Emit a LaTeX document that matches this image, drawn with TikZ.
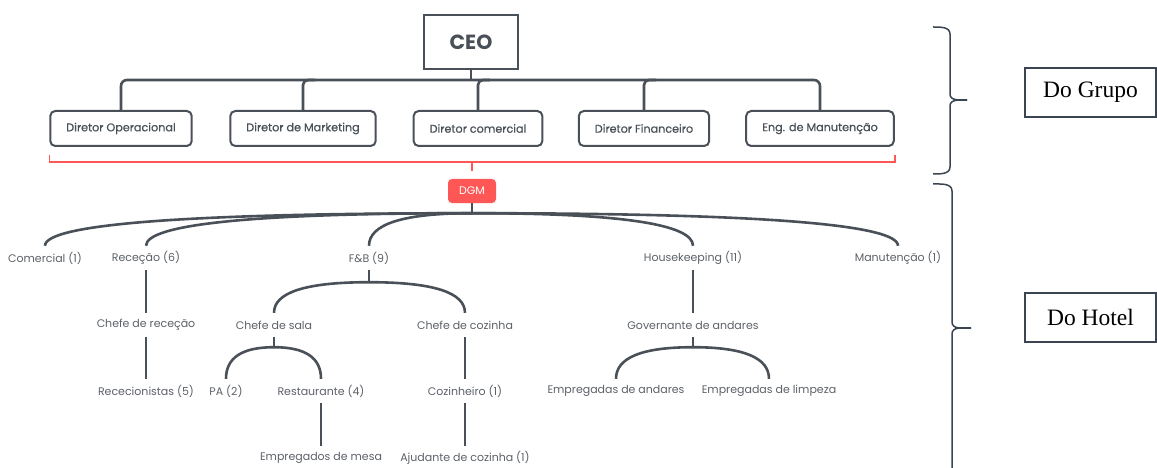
\documentclass[tikz,border=0pt]{standalone}
\usepackage{fontspec}
\setmainfont{Poppins}
\newfontfamily\medfont{Poppins}[FakeBold=0.6]
\newfontfamily\tagfont{Liberation Serif}
\usetikzlibrary{positioning,calc}

\definecolor{linegray}{HTML}{4A5058}
\definecolor{labelgray}{HTML}{5C6168}
\definecolor{dgmred}{HTML}{FF5656}
\definecolor{tagblue}{HTML}{3B4552}

\tikzset{
  orgline/.style={draw=linegray, line width=2.6pt},
  redline/.style={draw=dgmred, line width=1.4pt},
  ceobox/.style={draw=linegray, line width=2.2pt, minimum width=94pt, minimum height=54pt,
    text=linegray, font=\bfseries\fontsize{20.5}{24}\selectfont},
  dirbox/.style={draw=linegray, line width=2pt, rounded corners=5pt, minimum height=35pt,
    inner xsep=16pt, text=linegray, font=\medfont\fontsize{11.2}{13}\selectfont},
  unit/.style={inner sep=0pt, minimum height=24pt, text=labelgray,
    font=\fontsize{11}{13}\selectfont},
  tagbox/.style={draw=tagblue, line width=2pt, minimum width=131pt, minimum height=49pt,
    font=\tagfont\fontsize{23.5}{26}\selectfont},
  bracestyle/.style={draw=tagblue, line width=1.5pt}
}
% quadratic-looking branch from a hub to a child node
\newcommand{\orgbranch}[2]{%
  \draw[orgline] (#1) .. controls ($(#1)!2/3!(#1 -| #2.north)$)
    and ($(#2.north)!2/3!(#1 -| #2.north)$) .. (#2.north);}

\begin{document}
\begin{tikzpicture}[x=1pt, y=-1pt]
    \useasboundingbox (0,0) rectangle (1157,468);

    %% Do Grupo
    \node[ceobox] (ceo) at (471,42) {CEO};
    \node[dirbox] (dirop)  at (121,128.5) {Diretor Operacional};
    \node[dirbox] (dirmkt) at (303,128.5) {Diretor de Marketing};
    \node[dirbox] (dircom) at (478,128.5) {Diretor comercial};
    \node[dirbox] (dirfin) at (644,128.5) {Diretor Financeiro};
    \node[dirbox] (direng) at (820,128.5) {Eng. de Manutenção};

    \coordinate (bar) at (471,80);
    \draw[orgline] (ceo) -- (ceo.south |- bar);
    \draw[orgline, rounded corners=6pt] (dirop) |- (bar) -| (direng);
    \foreach \d in {dirmkt,dircom,dirfin}
        \draw[orgline, rounded corners=5pt] (\d) |- ($(\d.north |- bar)+(12,0)$);

    \coordinate (redmid) at (472,162);
    \draw[redline] ([yshift=-8pt]dirop.south west) |- (redmid) -| ([yshift=-8pt]direng.south east);
    \draw[redline] (redmid) -- ++(0,9);

    %% Do Hotel
    \node[fill=dgmred, text=white, rounded corners=4pt, minimum width=48pt, minimum height=24pt,
        font=\fontsize{11}{13}\selectfont] (dgm) at (472,191) {DGM};

    \node[unit] (comercial) at (45,258)  {Comercial (1)};
    \node[unit] (rececao)   at (146,258) {Receção (6)};
    \node[unit] (fb)        at (369,258) {F\&B (9)};
    \node[unit] (hk)        at (693,258) {Housekeeping (11)};
    \node[unit] (manut)     at (898,258) {Manutenção (1)};

    \node[unit] (chefrec) at (146,325) {Chefe de receção};
    \node[unit] (chefsala) at (274,325) {Chefe de sala};
    \node[unit] (chefcoz) at (465,325) {Chefe de cozinha};
    \node[unit] (govern)  at (693,325) {Governante de andares};

    \node[unit] (rececion) at (146,391) {Rececionistas (5)};
    \node[unit] (pa)       at (226,391) {PA (2)};
    \node[unit] (restaur)  at (321,391) {Restaurante (4)};
    \node[unit] (cozinh)   at (465,391) {Cozinheiro (1)};
    \node[unit] (empand)   at (616,391) {Empregadas de andares};
    \node[unit] (emplimp)  at (769,391) {Empregadas de limpeza};

    \node[unit] (empmesa) at (321,458) {Empregados de mesa};
    \node[unit] (ajud)    at (465,458) {Ajudante de cozinha (1)};

    % curved branches
    \draw[orgline] (dgm.south) -- ++(0,10) coordinate (hubdgm);
    \foreach \n in {comercial,rececao,fb,hk,manut}
        {\orgbranch{hubdgm}{\n}}
    \draw[orgline] (fb.south) -- ++(0,12) coordinate (hubfb);
    \foreach \n in {chefsala,chefcoz}
        {\orgbranch{hubfb}{\n}}
    \draw[orgline] (chefsala.south) -- ++(0,10) coordinate (hubsala);
    \foreach \n in {pa,restaur}
        {\orgbranch{hubsala}{\n}}
    \draw[orgline] (govern.south) -- ++(0,10) coordinate (hubgov);
    \foreach \n in {empand,emplimp}
        {\orgbranch{hubgov}{\n}}

    % straight branches
    \draw[orgline] (rececao) -- (chefrec);
    \draw[orgline] (chefrec) -- (rececion);
    \draw[orgline] (hk) -- (govern);
    \draw[orgline] (chefcoz) -- (cozinh);
    \draw[orgline] (cozinh) -- (ajud);
    \draw[orgline] (restaur) -- (empmesa);

    %% braces and tags
    \node[tagbox] (grupo) at (1090.5,92.5) {Do Grupo};
    \node[tagbox] (hotel) at (1090.5,317.5) {Do Hotel};

    \coordinate (tipgrupo) at (967,100);
    \draw[bracestyle] (933,27) to[out=0,in=90] (950,34) -- (950,94) to[out=-90,in=180] (tipgrupo);
    \draw[bracestyle] (tipgrupo) to[out=180,in=90] (950,106) -- (950,167) to[out=-90,in=0] (933,174);
    \coordinate (tiphotel) at (971,328);
    \draw[bracestyle] (933,184) to[out=0,in=90] (952,191) -- (952,322) to[out=-90,in=180] (tiphotel);
    \draw[bracestyle] (tiphotel) to[out=180,in=90] (952,334) -- (952,470);
\end{tikzpicture}
\end{document}
